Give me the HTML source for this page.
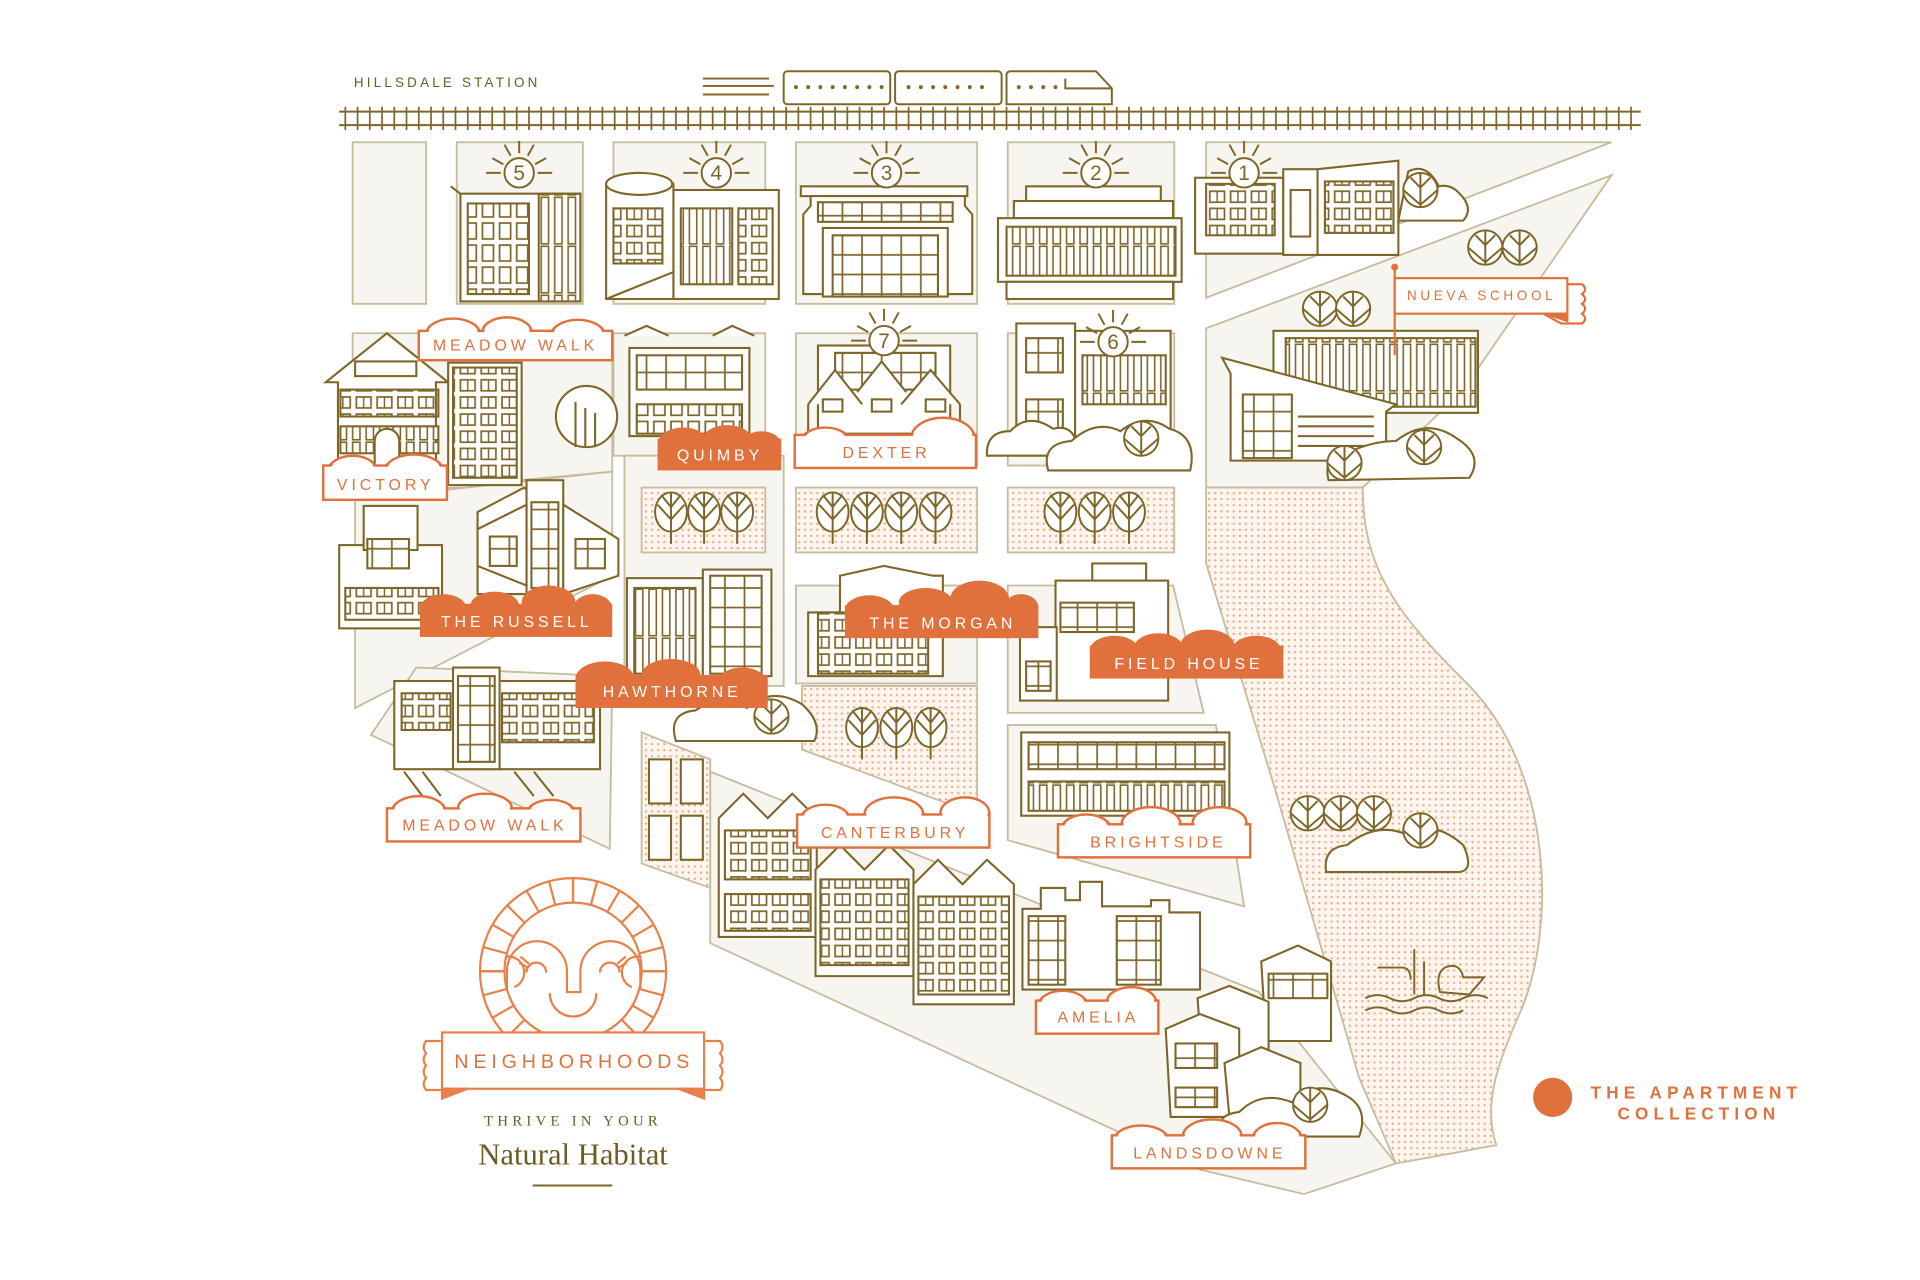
<!DOCTYPE html>
<html><head><meta charset="utf-8"><style>
html,body{margin:0;padding:0;background:#fff;}
svg{display:block;}
</style></head><body>
<svg width="1920" height="1280" viewBox="0 0 1568 1045" xmlns="http://www.w3.org/2000/svg">
<defs>
<pattern id="dots" width="5" height="5" patternUnits="userSpaceOnUse"><rect width="5" height="5" fill="#fdf6f0"/><circle cx="2.5" cy="2.5" r="0.95" fill="#f4a676"/></pattern>
<pattern id="win" width="14" height="18" patternUnits="userSpaceOnUse"><rect x="2" y="2" width="9" height="13" fill="#fff" stroke="#7d6628" stroke-width="1.4"/></pattern>
<pattern id="win2" width="17" height="14" patternUnits="userSpaceOnUse"><rect x="2" y="2" width="12" height="9" fill="#fff" stroke="#7d6628" stroke-width="1.4"/><line x1="8" y1="2" x2="8" y2="11" stroke="#7d6628" stroke-width="1.2"/></pattern>
<pattern id="grid" width="16" height="16" patternUnits="userSpaceOnUse"><rect width="16" height="16" fill="#fff" stroke="#7d6628" stroke-width="1.4"/></pattern>
<pattern id="vbar" width="11" height="40" patternUnits="userSpaceOnUse"><rect x="2" y="1" width="6" height="38" fill="#fff" stroke="#7d6628" stroke-width="1.3"/></pattern>
<g id="tree"><ellipse cx="0" cy="0" rx="13" ry="16" fill="#fff" stroke="#7d6628" stroke-width="1.6"/><path d="M0,-16V26M-11,-6L0,6L11,-6M-8,-14L0,-4L8,-14" fill="none" stroke="#7d6628" stroke-width="1.6"/></g>
<g id="rtree"><circle r="14" fill="#fff" stroke="#7d6628" stroke-width="1.6"/><path d="M0,-14V14M-14,0L0,12L14,0M-8,-10L0,-2L8,-10" fill="none" stroke="#7d6628" stroke-width="1.6"/></g>
<g id="sun" stroke="#7d6628" stroke-width="1.6" fill="none"><path d="M0,-26V-16M-12,-23L-7,-14M12,-23L7,-14M-22,-12L-13,-7M22,-12L13,-7M-27,0H-15M27,0H15"/><circle r="12" fill="#fff"/></g>
<path id="rq" d="M0,-56V-76M14.5,-54.1L19.7,-73.4M28,-48.5L38,-65.8M39.6,-39.6L53.7,-53.7M48.5,-28L65.8,-38M54.1,-14.5L73.4,-19.7M56,0H76"/>
</defs>

<g fill="#f7f5f0" stroke="#c8bc9f" stroke-width="1.5">
<rect x="288" y="116" width="60" height="132"/>
<rect x="373" y="116" width="103" height="132"/>
<rect x="501" y="116" width="124" height="132"/>
<rect x="650" y="116" width="148" height="132"/>
<rect x="823" y="116" width="136" height="132"/>
<polygon points="985,116 1316,116 985,243"/>
<polygon points="985,268 1316,143 1195,318 1113,398 985,398"/>
<polygon points="288,272 500,272 500,385 425,392 380,398 288,400"/>
<rect x="501" y="272" width="124" height="100"/>
<rect x="650" y="272" width="148" height="108"/>
<rect x="823" y="272" width="136" height="108"/>
<polygon points="290,408 500,385 500,470 290,578"/>
<polygon points="510,372 640,372 640,560 510,560"/>
<rect x="650" y="478" width="148" height="80"/>
<polygon points="823,478 958,478 983,582 823,582"/>
<polygon points="303,600 340,545 500,552 498,693"/>
<polygon points="823,592 993,592 1016,740 823,686"/>
<polygon points="580,630 1028,810 1140,950 1065,975 980,955 580,770"/>
</g>
<g stroke="#c8bc9f" stroke-width="1.5">
<rect x="524" y="398" width="101" height="53" fill="url(#dots)"/>
<rect x="650" y="398" width="148" height="53" fill="url(#dots)"/>
<rect x="823" y="398" width="136" height="53" fill="url(#dots)"/>
<polygon points="655,560 798,560 798,665 655,612" fill="url(#dots)"/>
<polygon points="524,598 580,620 580,725 524,705" fill="url(#dots)"/>
<path d="M985,398 L1113,398 C1112,470 1150,510 1200,560 C1268,630 1272,760 1240,830 C1220,875 1212,905 1222,935 L1140,950 L1110,880 L1040,640 L985,460 Z" fill="url(#dots)"/>
</g>

<!-- header -->
<text x="289" y="71" style="font-family:'Liberation Sans',sans-serif;font-size:11px;letter-spacing:2.6px" fill="#6e5a22">HILLSDALE STATION</text>
<g stroke="#7d6628" stroke-width="1.6" fill="none">
<path d="M574,64H628M574,70H632M574,77H628"/>
<rect x="640" y="58" width="87" height="27" rx="3" fill="#fff"/>
<rect x="731" y="58" width="87" height="27" rx="3" fill="#fff"/>
<path d="M822,85V61Q822,58 826,58H895L908,72V85Z" fill="#fff"/>
<path d="M870,64V72H908"/>
<path d="M277,91H1340M277,102H1340"/>
</g>
<g fill="#7d6628">
<circle cx="650" cy="71" r="1.6"/><circle cx="660" cy="71" r="1.6"/><circle cx="670" cy="71" r="1.6"/><circle cx="680" cy="71" r="1.6"/><circle cx="690" cy="71" r="1.6"/><circle cx="700" cy="71" r="1.6"/><circle cx="710" cy="71" r="1.6"/><circle cx="720" cy="71" r="1.6"/>
<circle cx="742" cy="71" r="1.6"/><circle cx="752" cy="71" r="1.6"/><circle cx="762" cy="71" r="1.6"/><circle cx="772" cy="71" r="1.6"/><circle cx="782" cy="71" r="1.6"/><circle cx="792" cy="71" r="1.6"/><circle cx="802" cy="71" r="1.6"/>
<circle cx="832" cy="71" r="1.6"/><circle cx="842" cy="71" r="1.6"/><circle cx="852" cy="71" r="1.6"/><circle cx="862" cy="71" r="1.6"/>
</g>
<path d="M282,87V106M292,87V106M302,87V106M312,87V106M322,87V106M332,87V106M342,87V106M352,87V106M362,87V106M372,87V106M382,87V106M392,87V106M402,87V106M412,87V106M422,87V106M432,87V106M442,87V106M452,87V106M462,87V106M472,87V106M482,87V106M492,87V106M502,87V106M512,87V106M522,87V106M532,87V106M542,87V106M552,87V106M562,87V106M572,87V106M582,87V106M592,87V106M602,87V106M612,87V106M622,87V106M632,87V106M642,87V106M652,87V106M662,87V106M672,87V106M682,87V106M692,87V106M702,87V106M712,87V106M722,87V106M732,87V106M742,87V106M752,87V106M762,87V106M772,87V106M782,87V106M792,87V106M802,87V106M812,87V106M822,87V106M832,87V106M842,87V106M852,87V106M862,87V106M872,87V106M882,87V106M892,87V106M902,87V106M912,87V106M922,87V106M932,87V106M942,87V106M952,87V106M962,87V106M972,87V106M982,87V106M992,87V106M1002,87V106M1012,87V106M1022,87V106M1032,87V106M1042,87V106M1052,87V106M1062,87V106M1072,87V106M1082,87V106M1092,87V106M1102,87V106M1112,87V106M1122,87V106M1132,87V106M1142,87V106M1152,87V106M1162,87V106M1172,87V106M1182,87V106M1192,87V106M1202,87V106M1212,87V106M1222,87V106M1232,87V106M1242,87V106M1252,87V106M1262,87V106M1272,87V106M1282,87V106M1292,87V106M1302,87V106M1312,87V106M1322,87V106M1332,87V106" stroke="#7d6628" stroke-width="1.4"/>

<!-- buildings -->
<g stroke="#7d6628" stroke-width="1.7" fill="#fff">
<rect x="376" y="158" width="98" height="88"/>
<path d="M368,152L376,158"/>
<rect x="382" y="166" width="50" height="74" fill="url(#win)"/>
<rect x="440" y="158" width="34" height="88" fill="url(#vbar)"/>
<rect x="495" y="150" width="55" height="94"/><ellipse cx="522" cy="150" rx="27" ry="9"/>
<path d="M495,244L550,222"/>
<rect x="501" y="170" width="40" height="45" fill="url(#win2)"/>
<rect x="550" y="155" width="86" height="89"/>
<rect x="556" y="170" width="42" height="62" fill="url(#vbar)"/>
<rect x="603" y="170" width="28" height="62" fill="url(#win2)"/>
<rect x="654" y="152" width="136" height="8"/>
<path d="M656,240V175L662,168V160H788V168L794,175V240Z"/>
<rect x="668" y="165" width="110" height="16" fill="url(#grid)"/>
<rect x="672" y="186" width="102" height="56"/>
<rect x="680" y="192" width="86" height="50" fill="url(#grid)"/>
<rect x="838" y="152" width="110" height="12"/>
<rect x="828" y="164" width="130" height="14"/>
<rect x="815" y="178" width="150" height="52"/>
<rect x="822" y="185" width="138" height="40" fill="url(#vbar)"/>
<rect x="822" y="230" width="136" height="14"/>
<rect x="976" y="145" width="72" height="62"/>
<rect x="985" y="150" width="56" height="42" fill="url(#win2)"/>
<rect x="1048" y="138" width="28" height="70"/><rect x="1054" y="155" width="16" height="38"/>
<path d="M1076,138L1142,131V208H1076Z"/>
<rect x="1082" y="148" width="56" height="42" fill="url(#win2)"/>
<path d="M1142,180H1195Q1204,170 1192,158Q1185,150 1175,152Q1165,132 1150,140Z"/>
<use href="#rtree" x="1160" y="155"/>
<use href="#rtree" x="1213" y="202"/><use href="#rtree" x="1241" y="202"/>
<use href="#rtree" x="1078" y="252"/><use href="#rtree" x="1105" y="252"/>
<rect x="1040" y="270" width="167" height="67"/>
<rect x="1050" y="276" width="155" height="56" fill="url(#vbar)"/>
<path d="M998,292L1140,330L1132,336V376H1005V305Z"/>
<rect x="1015" y="322" width="40" height="52" fill="url(#grid)"/>
<path d="M1060,340H1122M1060,348H1122M1060,356H1122M1060,364H1122"/>
<path d="M1085,392Q1080,372 1100,370Q1120,360 1140,360Q1165,340 1190,358Q1212,372 1200,390Z"/>
<use href="#rtree" x="1163" y="365"/><use href="#rtree" x="1098" y="378"/>
<path d="M266,312L316,272L366,312L356,312V378H276V312Z"/>
<rect x="290" y="295" width="50" height="12"/>
<rect x="278" y="318" width="80" height="22" fill="url(#win2)"/>
<rect x="278" y="348" width="80" height="22" fill="url(#vbar)"/>
<path d="M306,380V360A10,10 0 0 1 326,360V380"/>
<rect x="366" y="296" width="60" height="100"/>
<rect x="370" y="300" width="52" height="90" fill="url(#win2)"/>
<circle cx="479" cy="340" r="25"/>
<path d="M470,328V365M478,333V365M486,337V365"/>
<rect x="514" y="284" width="98" height="72"/>
<rect x="520" y="290" width="86" height="28" fill="url(#grid)"/>
<rect x="520" y="330" width="86" height="24" fill="url(#win)"/>
<path d="M510,274L528,266L546,274M582,274L598,266L616,274"/>
<rect x="668" y="282" width="108" height="72"/>
<rect x="682" y="288" width="82" height="30" fill="url(#grid)"/>
<path d="M660,330L682,302L704,330M700,320L720,295L740,320M736,330L760,302L784,330M660,330V356M784,330V356"/>
<rect x="672" y="326" width="16" height="10"/><rect x="712" y="326" width="16" height="10"/><rect x="756" y="326" width="16" height="10"/>
<rect x="830" y="264" width="48" height="94"/>
<rect x="838" y="276" width="30" height="28" fill="url(#grid)"/>
<rect x="838" y="326" width="30" height="28" fill="url(#grid)"/>
<rect x="878" y="270" width="78" height="88"/>
<rect x="884" y="290" width="68" height="40" fill="url(#vbar)"/>
<path d="M806,372Q805,352 825,352Q840,336 860,350Q880,345 880,372Z"/>
<path d="M856,384Q850,362 875,360Q895,342 915,352Q935,336 955,350Q978,356 972,384Z"/>
<use href="#rtree" x="932" y="358"/>
<rect x="277" y="445" width="84" height="68"/>
<rect x="297" y="413" width="44" height="36"/>
<rect x="300" y="440" width="34" height="24" fill="url(#grid)"/>
<rect x="282" y="480" width="76" height="26" fill="url(#win2)"/>
<path d="M390,418L428,398L448,418V485H390Z"/>
<rect x="430" y="392" width="30" height="94"/>
<rect x="434" y="410" width="22" height="70" fill="url(#grid)"/>
<path d="M460,412L505,440V470L460,485Z"/><path d="M430,412L390,432V462L430,478Z"/>
<rect x="400" y="438" width="22" height="24" fill="url(#grid)"/>
<rect x="470" y="440" width="24" height="24" fill="url(#grid)"/>
<rect x="512" y="472" width="62" height="80"/>
<rect x="518" y="480" width="50" height="70" fill="url(#vbar)"/>
<rect x="574" y="465" width="56" height="87"/>
<rect x="580" y="470" width="42" height="80" fill="url(#grid)"/>
<path d="M552,605Q545,582 568,580Q588,566 610,578Q630,560 655,575Q672,590 665,605Z"/>
<use href="#rtree" x="630" y="585"/>
<path d="M686,470L722,462L762,470H770V552H660V500H686Z"/>
<rect x="668" y="500" width="90" height="50" fill="url(#win2)"/>
<rect x="892" y="460" width="44" height="14"/>
<rect x="862" y="474" width="92" height="98"/>
<rect x="866" y="492" width="60" height="24" fill="url(#grid)"/>
<rect x="833" y="512" width="30" height="60"/>
<rect x="838" y="540" width="20" height="24" fill="url(#grid)"/>
<rect x="322" y="556" width="168" height="72"/>
<rect x="370" y="545" width="38" height="83"/>
<rect x="328" y="566" width="40" height="30" fill="url(#win2)"/>
<rect x="410" y="566" width="75" height="40" fill="url(#win2)"/>
<rect x="374" y="552" width="30" height="70" fill="url(#grid)"/>
<path d="M330,630L345,650M345,630L360,650M420,630L436,650M436,630L452,650"/>
<rect x="834" y="598" width="170" height="68"/>
<rect x="840" y="606" width="160" height="22" fill="url(#grid)"/>
<rect x="840" y="638" width="160" height="24" fill="url(#vbar)"/>
<path d="M587,668L607,648L627,668L647,648L667,668V765H587Z"/>
<rect x="592" y="678" width="70" height="40" fill="url(#win2)"/>
<rect x="592" y="730" width="70" height="30" fill="url(#win2)"/>
<path d="M666,710L686,690L706,710L726,690L746,710V797H666Z"/>
<rect x="670" y="718" width="72" height="70" fill="url(#win2)"/>
<path d="M746,722L766,702L786,722L806,702L828,722V820H746Z"/>
<rect x="750" y="732" width="74" height="80" fill="url(#win2)"/>
<rect x="530" y="620" width="18" height="36"/><rect x="556" y="620" width="18" height="36"/>
<rect x="530" y="666" width="18" height="36"/><rect x="556" y="666" width="18" height="36"/>
<path d="M835,742H850V725H870V735H882V720H900V740H940V735H955V745H980V808H835Z"/>
<rect x="840" y="748" width="30" height="56" fill="url(#grid)"/>
<rect x="912" y="748" width="36" height="56" fill="url(#grid)"/>
<path d="M1030,785L1060,772L1087,785V850H1034Z"/>
<rect x="1036" y="795" width="48" height="20" fill="url(#grid)"/>
<path d="M978,815L1004,805L1036,818V870H982Z"/>
<path d="M952,840L980,828L1012,840V912H956Z"/>
<rect x="960" y="852" width="34" height="20" fill="url(#grid)"/>
<rect x="960" y="888" width="34" height="16" fill="url(#grid)"/>
<path d="M1000,868L1030,855L1062,868V912H1004Z"/>
<path d="M995,928Q992,910 1012,908Q1030,890 1055,900Q1075,880 1100,895Q1118,905 1110,928Z"/>
<use href="#rtree" x="1070" y="902"/>
<use href="#rtree" x="1068" y="664"/><use href="#rtree" x="1095" y="664"/><use href="#rtree" x="1122" y="664"/>
<path d="M1083,712Q1080,692 1100,690Q1125,670 1150,682Q1170,668 1195,690Q1205,712 1190,712Z"/>
<use href="#rtree" x="1160" y="678"/>
</g>
<use href="#tree" x="548" y="418"/><use href="#tree" x="575" y="418"/><use href="#tree" x="602" y="418"/>
<use href="#tree" x="680" y="418"/><use href="#tree" x="708" y="418"/><use href="#tree" x="736" y="418"/><use href="#tree" x="764" y="418"/>
<use href="#tree" x="866" y="418"/><use href="#tree" x="894" y="418"/><use href="#tree" x="922" y="418"/>
<use href="#tree" x="704" y="594"/><use href="#tree" x="732" y="594"/><use href="#tree" x="760" y="594"/>
<g stroke="#7d6628" stroke-width="1.6" fill="none">
<path d="M1115,815Q1125,810 1135,815Q1145,820 1155,815Q1165,810 1175,815Q1185,820 1195,815Q1205,810 1215,815"/>
<path d="M1115,825Q1125,820 1135,825Q1145,830 1155,825Q1165,820 1175,825Q1185,830 1195,825"/>
<path d="M1155,812V775M1163,812V785M1125,790H1145Q1152,790 1152,800"/>
<path d="M1176,810Q1172,795 1180,790Q1192,785 1195,798L1212,798L1200,812Z"/>
</g>
<use href="#sun" x="424" y="141"/><use href="#sun" x="585" y="141"/><use href="#sun" x="724" y="141"/><use href="#sun" x="895" y="141"/><use href="#sun" x="1016" y="141"/><use href="#sun" x="722" y="278"/><use href="#sun" x="909" y="279"/>
<g font-family="'Liberation Sans',sans-serif" font-size="17" fill="#7d6628" text-anchor="middle">
<text x="424" y="147">5</text><text x="585" y="147">4</text><text x="724" y="147">3</text><text x="895" y="147">2</text><text x="1016" y="147">1</text><text x="722" y="284">7</text><text x="909" y="285">6</text>
</g>

<!-- filled labels -->
<g fill="#e0713d">
<rect x="537" y="358" width="101" height="26"/><ellipse cx="558" cy="361" rx="20" ry="12"/><ellipse cx="594" cy="359" rx="20" ry="12"/><ellipse cx="622" cy="363" rx="16" ry="11"/>
<rect x="343" y="493" width="157" height="27"/><ellipse cx="362" cy="497" rx="19" ry="12"/><ellipse cx="404" cy="495" rx="20" ry="12"/><ellipse cx="448" cy="492" rx="22" ry="14"/><ellipse cx="484" cy="497" rx="16" ry="12"/>
<rect x="470" y="551" width="157" height="27"/><ellipse cx="494" cy="554" rx="24" ry="14"/><ellipse cx="548" cy="551" rx="24" ry="13"/><ellipse cx="606" cy="557" rx="20" ry="12"/>
<rect x="690" y="494" width="158" height="27"/><ellipse cx="710" cy="498" rx="20" ry="12"/><ellipse cx="756" cy="492" rx="22" ry="12"/><ellipse cx="800" cy="489" rx="24" ry="15"/><ellipse cx="834" cy="496" rx="14" ry="11"/>
<rect x="890" y="527" width="158" height="27"/><ellipse cx="910" cy="531" rx="20" ry="12"/><ellipse cx="946" cy="529" rx="20" ry="12"/><ellipse cx="986" cy="527" rx="22" ry="13"/><ellipse cx="1026" cy="531" rx="20" ry="12"/>
</g>
<g fill="#fff" style="font-family:'Liberation Sans',sans-serif;font-size:13px;letter-spacing:3.2px;text-anchor:middle">
<text x="588" y="376">QUIMBY</text><text x="422" y="512">THE RUSSELL</text><text x="549" y="569">HAWTHORNE</text><text x="770" y="513">THE MORGAN</text><text x="971" y="546">FIELD HOUSE</text>
</g>
<!-- outline labels -->
<g stroke="#e0713d" stroke-width="2" fill="#fff">
<ellipse cx="370" cy="273" rx="22" ry="13"/><ellipse cx="414" cy="271" rx="20" ry="12"/><ellipse cx="472" cy="274" rx="22" ry="13"/><rect x="342" y="270" width="158" height="24"/>
<ellipse cx="288" cy="385" rx="20" ry="13"/><ellipse cx="338" cy="385" rx="24" ry="14"/><rect x="264" y="380" width="101" height="28"/>
<ellipse cx="674" cy="361" rx="20" ry="12"/><ellipse cx="770" cy="358" rx="26" ry="17"/><rect x="649" y="355" width="148" height="27"/>
<ellipse cx="342" cy="663" rx="22" ry="13"/><ellipse cx="396" cy="660" rx="22" ry="12"/><ellipse cx="450" cy="665" rx="20" ry="12"/><rect x="316" y="660" width="158" height="27"/>
<ellipse cx="674" cy="669" rx="20" ry="12"/><ellipse cx="730" cy="665" rx="24" ry="14"/><ellipse cx="788" cy="664" rx="20" ry="13"/><rect x="651" y="665" width="157" height="27"/>
<ellipse cx="887" cy="677" rx="20" ry="12"/><ellipse cx="940" cy="673" rx="24" ry="14"/><ellipse cx="996" cy="672" rx="22" ry="13"/><rect x="864" y="673" width="157" height="27"/>
<ellipse cx="868" cy="821" rx="20" ry="12"/><ellipse cx="924" cy="818" rx="20" ry="12"/><rect x="846" y="817" width="100" height="27"/>
<ellipse cx="932" cy="931" rx="22" ry="12"/><ellipse cx="990" cy="928" rx="24" ry="14"/><ellipse cx="1043" cy="930" rx="20" ry="13"/><rect x="908" y="927" width="158" height="27"/>
</g>
<g fill="#fff">
<ellipse cx="370" cy="273" rx="20.5" ry="11.5"/><ellipse cx="414" cy="271" rx="18.5" ry="10.5"/><ellipse cx="472" cy="274" rx="20.5" ry="11.5"/><rect x="343.5" y="271.5" width="155" height="21"/>
<ellipse cx="288" cy="385" rx="18.5" ry="11.5"/><ellipse cx="338" cy="385" rx="22.5" ry="12.5"/><rect x="265.5" y="381.5" width="98" height="25"/>
<ellipse cx="674" cy="361" rx="18.5" ry="10.5"/><ellipse cx="770" cy="358" rx="24.5" ry="15.5"/><rect x="650.5" y="356.5" width="145" height="24"/>
<ellipse cx="342" cy="663" rx="20.5" ry="11.5"/><ellipse cx="396" cy="660" rx="20.5" ry="10.5"/><ellipse cx="450" cy="665" rx="18.5" ry="10.5"/><rect x="317.5" y="661.5" width="155" height="24"/>
<ellipse cx="674" cy="669" rx="18.5" ry="10.5"/><ellipse cx="730" cy="665" rx="22.5" ry="12.5"/><ellipse cx="788" cy="664" rx="18.5" ry="11.5"/><rect x="652.5" y="666.5" width="154" height="24"/>
<ellipse cx="887" cy="677" rx="18.5" ry="10.5"/><ellipse cx="940" cy="673" rx="22.5" ry="12.5"/><ellipse cx="996" cy="672" rx="20.5" ry="11.5"/><rect x="865.5" y="674.5" width="154" height="24"/>
<ellipse cx="868" cy="821" rx="18.5" ry="10.5"/><ellipse cx="924" cy="818" rx="18.5" ry="10.5"/><rect x="847.5" y="818.5" width="97" height="24"/>
<ellipse cx="932" cy="931" rx="20.5" ry="10.5"/><ellipse cx="990" cy="928" rx="22.5" ry="12.5"/><ellipse cx="1043" cy="930" rx="18.5" ry="11.5"/><rect x="909.5" y="928.5" width="155" height="24"/>
</g>
<g fill="#e0713d" style="font-family:'Liberation Sans',sans-serif;font-size:13px;letter-spacing:3.2px;text-anchor:middle">
<text x="421" y="286">MEADOW WALK</text><text x="315" y="400">VICTORY</text><text x="724" y="374">DEXTER</text>
<text x="396" y="678">MEADOW WALK</text><text x="731" y="684">CANTERBURY</text><text x="946" y="692">BRIGHTSIDE</text>
<text x="897" y="835">AMELIA</text><text x="988" y="946">LANDSDOWNE</text>
</g>
<g stroke="#e0713d" stroke-width="1.8" fill="#fff">
<path d="M1139,218V290" fill="none"/><circle cx="1139" cy="218" r="2" fill="#e0713d"/>
<path d="M1262,232H1292Q1297,236 1292,240Q1297,244 1292,248Q1297,252 1292,256Q1297,260 1292,264H1275L1262,257Z"/>
<rect x="1139" y="227" width="141" height="29"/>
<path d="M1262,256L1280,256V262Z" fill="#e0713d"/>
</g>
<text x="1210" y="245" fill="#e0713d" style="font-family:'Liberation Sans',sans-serif;font-size:11px;letter-spacing:3px;text-anchor:middle">NUEVA SCHOOL</text>

<!-- logo -->
<g stroke="#e8804a" stroke-width="1.8" fill="none">
<circle cx="468" cy="793" r="76" fill="#fff"/>
<circle cx="468" cy="793" r="56"/>
<g transform="translate(468,793)">
<use href="#rq"/><use href="#rq" transform="scale(-1,1)"/><use href="#rq" transform="scale(1,-1)"/><use href="#rq" transform="scale(-1,-1)"/>
</g>
<path d="M414,808V793A24.5,24.5 0 0 1 463,793V810H474V793A24.5,24.5 0 0 1 523,793V808"/>
<path d="M430,794A8,8 0 0 1 446,794M490,794A8,8 0 0 1 506,794M424,786L431,790M425,781L432,787M512,786L505,790M511,781L504,787"/>
<path d="M449,811A19,19 0 0 0 487,811"/>
<path d="M414,781A13,13 0 0 1 420,806M522,781A13,13 0 0 0 516,806"/>
<path d="M360,850H348Q344,855 348,860Q344,865 348,870Q344,875 348,880Q344,885 348,890H372" fill="#fff"/>
<path d="M576,850H588Q592,855 588,860Q592,865 588,870Q592,875 588,880Q592,885 588,890H564" fill="#fff"/>
<rect x="361" y="843" width="214" height="46" fill="#fff"/>
<path d="M361,889L361,897L382,889Z" fill="#e8804a"/><path d="M575,889L575,897L554,889Z" fill="#e8804a"/>
</g>
<text x="469" y="872" fill="#e0713d" style="font-family:'Liberation Sans',sans-serif;font-size:16px;letter-spacing:4px;text-anchor:middle">NEIGHBORHOODS</text>
<text x="468" y="919" fill="#6e5a22" style="font-family:'Liberation Serif',serif;font-size:12px;letter-spacing:3.5px;text-anchor:middle">THRIVE IN YOUR</text>
<text x="468" y="951" fill="#6e5a22" style="font-family:'Liberation Serif',serif;font-size:25px;text-anchor:middle">Natural Habitat</text>
<path d="M435,968H500" stroke="#7d6628" stroke-width="1.6"/>

<circle cx="1268" cy="896" r="16" fill="#e0713d"/>
<g fill="#e0713d" style="font-family:'Liberation Sans',sans-serif;font-size:14px;font-weight:bold;letter-spacing:4.2px">
<text x="1299" y="897">THE APARTMENT</text><text x="1321" y="914">COLLECTION</text>
</g>
</svg>
</body></html>
